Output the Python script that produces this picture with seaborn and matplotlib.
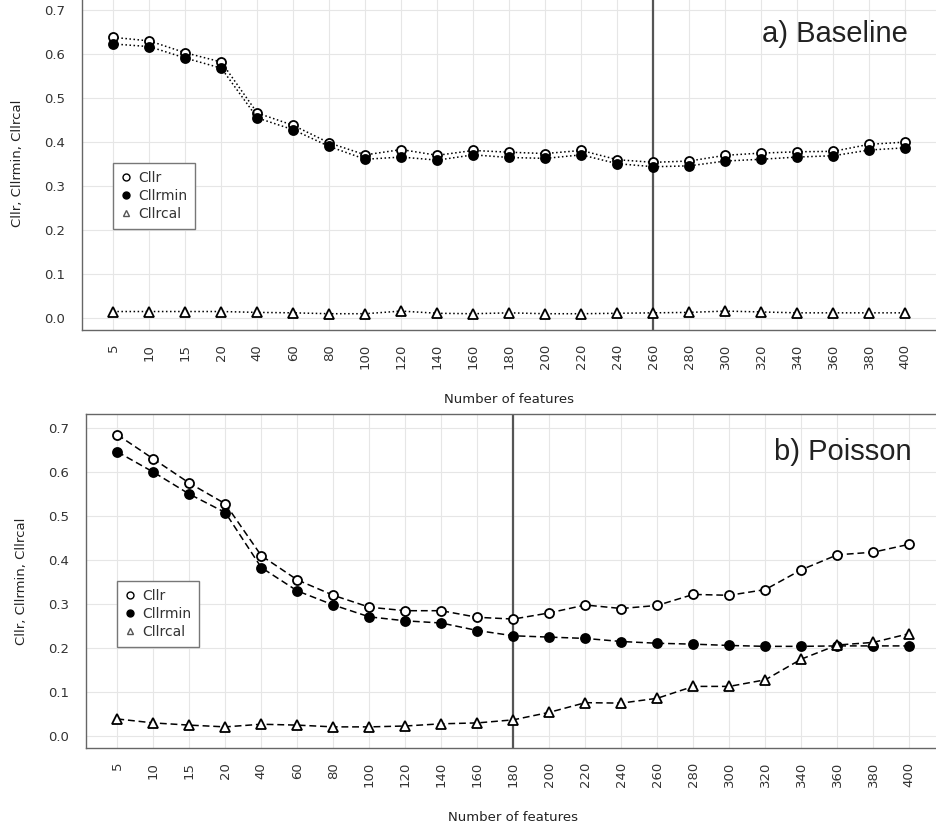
import numpy as np
import pandas as pd
import seaborn as sns
from matplotlib import pyplot as plt
from matplotlib.lines import Line2D

features = ['5', '10', '15', '20', '40', '60', '80', '100', '120', '140', '160', '180',
            '200', '220', '240', '260', '280', '300', '320', '340', '360', '380', '400']

# a) Baseline
base_cllr = [0.638, 0.630, 0.603, 0.582, 0.466, 0.438, 0.398, 0.371, 0.383, 0.370, 0.381, 0.377,
             0.374, 0.381, 0.360, 0.354, 0.357, 0.370, 0.375, 0.378, 0.379, 0.395, 0.400]
base_cllrmin = [0.623, 0.617, 0.591, 0.568, 0.455, 0.428, 0.390, 0.361, 0.366, 0.359, 0.371, 0.365,
                0.363, 0.371, 0.351, 0.344, 0.346, 0.357, 0.361, 0.366, 0.369, 0.382, 0.387]
base_cllrcal = [0.015, 0.015, 0.015, 0.015, 0.013, 0.012, 0.010, 0.010, 0.016, 0.011, 0.010, 0.012,
                0.010, 0.010, 0.011, 0.012, 0.013, 0.016, 0.014, 0.012, 0.012, 0.012, 0.012]
base_best = '260'

# b) Poisson
pois_cllr = [0.685, 0.630, 0.575, 0.528, 0.410, 0.355, 0.320, 0.293, 0.285, 0.285, 0.270, 0.266,
             0.280, 0.298, 0.290, 0.297, 0.322, 0.320, 0.333, 0.378, 0.412, 0.418, 0.436]
pois_cllrmin = [0.646, 0.600, 0.550, 0.508, 0.383, 0.330, 0.298, 0.271, 0.262, 0.257, 0.240, 0.228,
                0.225, 0.222, 0.215, 0.211, 0.209, 0.206, 0.204, 0.204, 0.205, 0.205, 0.205]
pois_cllrcal = [0.039, 0.030, 0.025, 0.021, 0.027, 0.025, 0.021, 0.021, 0.023, 0.028, 0.030, 0.037,
                0.054, 0.076, 0.075, 0.086, 0.113, 0.113, 0.128, 0.175, 0.207, 0.213, 0.233]
pois_best = '180'

sns.set_style('whitegrid', {'grid.color': '#e6e6e6', 'axes.edgecolor': '#666666'})
plt.rcParams['font.family'] = ['DejaVu Sans']


def draw_panel(ax, cllr, cllrmin, cllrcal, ls, title, best):
    df = pd.DataFrame({'features': features, 'Cllr': cllr, 'Cllrmin': cllrmin, 'Cllrcal': cllrcal})
    styles = [('Cllr', 'o', 'white'), ('Cllrmin', 'o', 'black'), ('Cllrcal', '^', 'white')]
    for col, mk, fc in styles:
        sns.lineplot(data=df, x='features', y=col, ax=ax, color='black', linestyle=ls, linewidth=1.1,
                     marker=mk, markerfacecolor=fc, markeredgecolor='black', markersize=6.5,
                     markeredgewidth=1.3, sort=False, errorbar=None, legend=False, zorder=3)
    ax.axvline(features.index(best), color='#555555', lw=1.6, zorder=2)

    ax.set_xlim(-0.87, 22.88)
    ax.set_ylim(-0.027, 0.732)
    ax.set_yticks(np.arange(0, 0.71, 0.1))
    ax.set_yticklabels(['%.1f' % v for v in np.arange(0, 0.71, 0.1)])
    ax.tick_params(axis='x', rotation=90, labelsize=9.5, length=6, width=0.8, color='#666666',
                   labelcolor='#333333', pad=4)
    ax.tick_params(axis='y', labelsize=9.5, length=7, width=0.8, color='#666666',
                   labelcolor='#333333', pad=5)
    ax.grid(True, color='#e6e6e6', lw=0.8)
    for sp in ax.spines.values():
        sp.set_color('#666666')
        sp.set_linewidth(1.0)

    ax.set_xlabel('Number of features', fontsize=9.5, color='#222222')
    ax.xaxis.set_label_coords(0.5, -0.19)
    ax.set_ylabel('Cllr, Cllrmin, Cllrcal', fontsize=9.5, color='#222222')
    ax.yaxis.set_label_coords(-0.068, 0.5)

    ax.text(0.966, 0.862, title, transform=ax.transAxes, ha='right', va='baseline',
            fontsize=21, family='Liberation Sans', color='#222222')

    handles = [Line2D([], [], ls='none', marker=mk, markerfacecolor=fc,
                      markeredgecolor='black' if col != 'Cllrcal' else '#555555',
                      markersize=5, markeredgewidth=1) for col, mk, fc in styles]
    leg = ax.legend(handles, [s[0] for s in styles], loc='upper left', bbox_to_anchor=(0.036, 0.5),
                    frameon=True, fancybox=False, edgecolor='#777777', framealpha=1, fontsize=10,
                    handlelength=0.8, handletextpad=0.5, labelspacing=0.3, borderpad=0.55,
                    borderaxespad=0)
    leg.get_frame().set_linewidth(1.0)
    for t in leg.get_texts():
        t.set_color('#333333')


fig = plt.figure(figsize=(9.36, 8.31), dpi=100)
ax1 = fig.add_axes([82 / 936, (831 - 330) / 831, 855 / 936, 334 / 831])
ax2 = fig.add_axes([86 / 936, (831 - 748) / 831, 855 / 936, 334 / 831])

draw_panel(ax1, base_cllr, base_cllrmin, base_cllrcal, ':', 'a) Baseline', base_best)
draw_panel(ax2, pois_cllr, pois_cllrmin, pois_cllrcal, (0, (4.5, 2.5)), 'b) Poisson', pois_best)

plt.savefig('out.png', dpi=100)
